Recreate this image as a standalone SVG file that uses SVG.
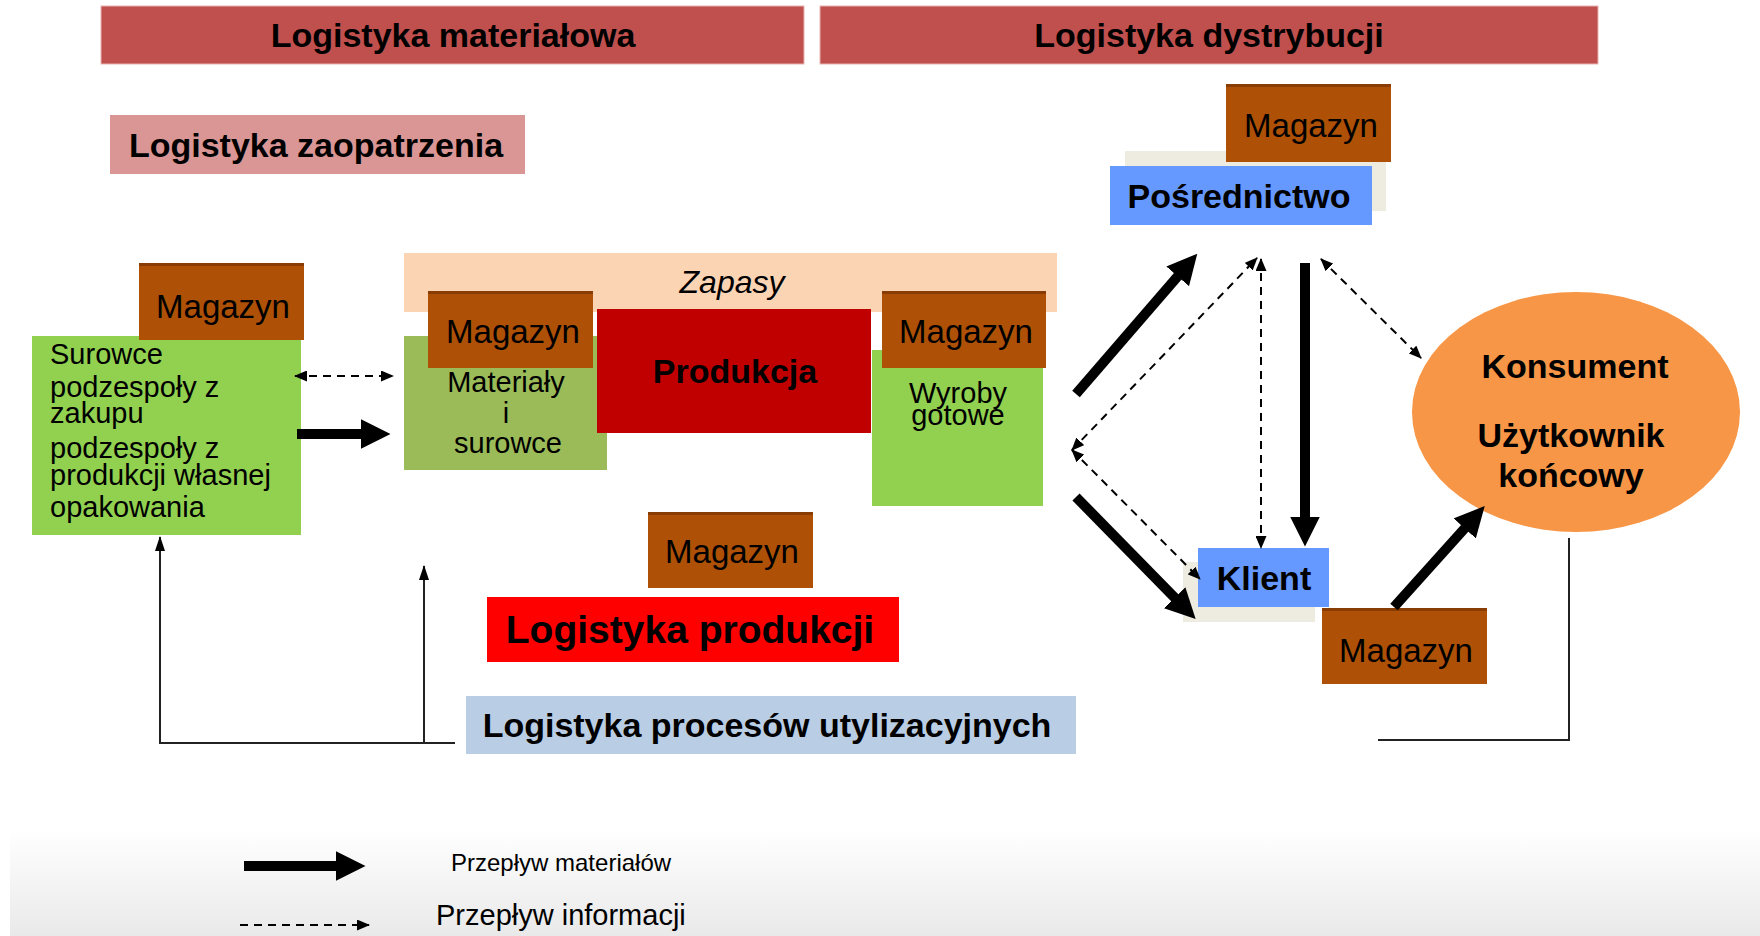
<svg xmlns="http://www.w3.org/2000/svg" width="1760" height="936" viewBox="0 0 1760 936">
<defs>
<linearGradient id="bg" x1="0" y1="0" x2="0" y2="1">
<stop offset="0" stop-color="#ffffff"/>
<stop offset="1" stop-color="#e9e9e9"/>
</linearGradient>
<marker id="thick" markerUnits="userSpaceOnUse" markerWidth="30" markerHeight="30" viewBox="0 0 30 30" refX="0.5" refY="15" orient="auto">
<path d="M0,0 L30,15 L0,30 z" fill="#000"/>
</marker>
<marker id="dash" markerUnits="userSpaceOnUse" markerWidth="13" markerHeight="11" viewBox="0 0 13 11" refX="12" refY="5.5" orient="auto-start-reverse">
<path d="M0,0 L13,5.5 L0,11 z" fill="#000"/>
</marker>
<marker id="thin" markerUnits="userSpaceOnUse" markerWidth="15" markerHeight="10" viewBox="0 0 15 10" refX="14" refY="5" orient="auto">
<path d="M0,0 L15,5 L0,10 z" fill="#000"/>
</marker>
<style>
text{font-family:"Liberation Sans",Arial,sans-serif;fill:#000}
.b{font-weight:bold;font-size:34px}
.mag{font-size:33px;text-anchor:middle}
.g{font-size:29px}
.c{text-anchor:middle}
.magbox{fill:#AE5106}
.magtop{fill:#8A3D02}
.thickln{stroke:#000;stroke-width:10;fill:none;marker-end:url(#thick)}
.dashln{stroke:#000;stroke-width:2;stroke-dasharray:8,6;fill:none;marker-start:url(#dash);marker-end:url(#dash)}
.thinln{stroke:#222;stroke-width:2;fill:none}
</style>
</defs>
<rect x="0" y="0" width="1760" height="936" fill="#ffffff"/>
<rect x="10" y="830" width="1750" height="106" fill="url(#bg)"/>

<g id="header-materialowa">
<rect x="101" y="6" width="703" height="58" fill="#C0504D" stroke="#E8B4B2" stroke-width="1"/>
<text class="b c" x="453" y="47">Logistyka materiałowa</text>
</g>
<g id="header-dystrybucji">
<rect x="820" y="6" width="778" height="58" fill="#C0504D" stroke="#E8B4B2" stroke-width="1"/>
<text class="b c" x="1209" y="47">Logistyka dystrybucji</text>
</g>
<g id="zaopatrzenia">
<rect x="110" y="115" width="415" height="59" fill="#D99694"/>
<text class="b c" x="316" y="157">Logistyka zaopatrzenia</text>
</g>

<g id="zapasy">
<rect x="404" y="253" width="653" height="59" fill="#FBD4B4"/>
<text class="c" x="732" y="293" font-size="32" font-style="italic">Zapasy</text>
</g>

<g id="surowce">
<rect x="32" y="336" width="269" height="199" fill="#92D050"/>
<text class="g" x="50" y="364">Surowce</text>
<text class="g" x="50" y="397">podzespoły z</text>
<text class="g" x="50" y="423">zakupu</text>
<text class="g" x="50" y="458">podzespoły z</text>
<text class="g" x="50" y="485">produkcji własnej</text>
<text class="g" x="50" y="517">opakowania</text>
</g>
<g id="magazyn-surowce">
<rect class="magbox" x="139" y="263" width="165" height="77"/>
<rect class="magtop" x="139" y="263" width="165" height="3"/>
<text class="mag" x="223" y="318">Magazyn</text>
</g>

<g id="materialy">
<rect x="404" y="336" width="203" height="134" fill="#9BBB59"/>
<text class="g c" x="506" y="392">Materiały</text>
<text class="g c" x="506" y="423">i</text>
<text class="g c" x="508" y="453">surowce</text>
</g>
<g id="magazyn-materialy">
<rect class="magbox" x="428" y="291" width="165" height="77"/>
<rect class="magtop" x="428" y="291" width="165" height="3"/>
<text class="mag" x="513" y="343">Magazyn</text>
</g>

<g id="produkcja">
<rect x="597" y="309" width="274" height="124" fill="#C00000"/>
<text class="b c" x="735" y="383">Produkcja</text>
</g>

<g id="wyroby">
<rect x="872" y="350" width="171" height="156" fill="#92D050"/>
<text class="g c" x="958" y="403">Wyroby</text>
<text class="g c" x="958" y="425">gotowe</text>
</g>
<g id="magazyn-wyroby">
<rect class="magbox" x="882" y="291" width="164" height="77"/>
<rect class="magtop" x="882" y="291" width="164" height="3"/>
<text class="mag" x="966" y="343">Magazyn</text>
</g>

<g id="magazyn-produkcja">
<rect class="magbox" x="648" y="512" width="165" height="76"/>
<rect class="magtop" x="648" y="512" width="165" height="3"/>
<text class="mag" x="732" y="563">Magazyn</text>
</g>
<g id="logistyka-produkcji">
<rect x="487" y="597" width="412" height="65" fill="#FF0000"/>
<text class="c" x="690" y="643" font-size="39" font-weight="bold">Logistyka produkcji</text>
</g>
<g id="logistyka-utylizacji">
<rect x="466" y="696" width="610" height="58" fill="#B9CDE5"/>
<text class="b c" x="767" y="737">Logistyka procesów utylizacyjnych</text>
</g>

<g id="posrednictwo">
<rect x="1125" y="151" width="261" height="60" fill="#EEECE1"/>
<rect x="1110" y="166" width="262" height="59" fill="#6699FF"/>
<text class="b c" x="1239" y="208">Pośrednictwo</text>
</g>
<g id="magazyn-posrednictwo">
<rect class="magbox" x="1226" y="84" width="165" height="78"/>
<rect class="magtop" x="1226" y="84" width="165" height="3"/>
<text class="mag" x="1311" y="137">Magazyn</text>
</g>

<g id="klient">
<rect x="1183" y="562" width="132" height="60" fill="#EEECE1"/>
<rect x="1198" y="548" width="131" height="59" fill="#6699FF"/>
<text class="b c" x="1264" y="590">Klient</text>
</g>
<g id="magazyn-klient">
<rect class="magbox" x="1322" y="608" width="165" height="76"/>
<rect class="magtop" x="1322" y="608" width="165" height="3"/>
<text class="mag" x="1406" y="662">Magazyn</text>
</g>

<g id="konsument">
<ellipse cx="1576" cy="412" rx="164" ry="120" fill="#F79646"/>
<text class="b c" x="1575" y="378">Konsument</text>
<text class="b c" x="1571" y="447">Użytkownik</text>
<text class="b c" x="1571" y="487">końcowy</text>
</g>

<g id="connectors">
<line class="thickln" x1="297" y1="434" x2="361" y2="434"/>
<line class="dashln" x1="295" y1="376" x2="393" y2="376"/>
<line class="thickln" x1="1076" y1="394" x2="1178" y2="276"/>
<line class="thickln" x1="1076" y1="497" x2="1175" y2="598"/>
<line class="thickln" x1="1305" y1="263" x2="1305" y2="517"/>
<line class="thickln" x1="1394" y1="607" x2="1465" y2="528"/>
<line class="dashln" x1="1072" y1="450" x2="1257" y2="258"/>
<line class="dashln" x1="1261" y1="259" x2="1261" y2="548"/>
<line class="dashln" x1="1072" y1="450" x2="1200" y2="579"/>
<line class="dashln" x1="1321" y1="259" x2="1421" y2="358"/>
<path class="thinln" d="M160,743 V537" marker-end="url(#thin)"/>
<path class="thinln" d="M424,743 V566" marker-end="url(#thin)"/>
<path class="thinln" d="M159,743 H455"/>
<path class="thinln" d="M1569,538 V740 H1378"/>
</g>

<g id="legend">
<line class="thickln" x1="244" y1="866" x2="336" y2="866"/>
<text x="451" y="871" font-size="24">Przepływ materiałów</text>
<line stroke="#000" stroke-width="2" stroke-dasharray="8,6" x1="240" y1="925" x2="369" y2="925" marker-end="url(#dash)"/>
<text x="436" y="925" font-size="29">Przepływ informacji</text>
</g>
</svg>
